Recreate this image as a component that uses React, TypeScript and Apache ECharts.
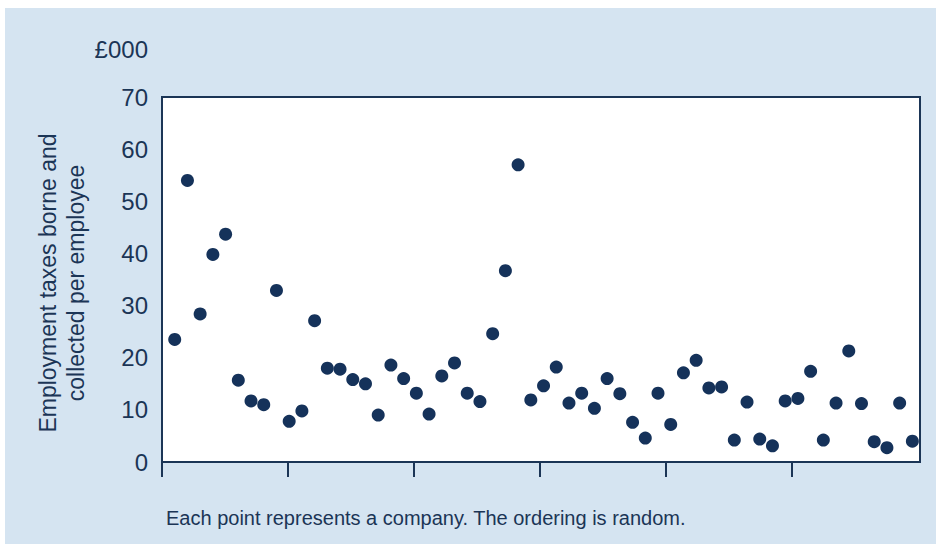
import React, { useEffect, useRef } from "react";
import * as echarts from "echarts";

const values: number[] = [
  23.5, 54.0, 28.4, 39.8, 43.7, 15.7, 11.7, 11.0, 32.9, 7.8,
  9.8, 27.1, 18.0, 17.8, 15.8, 15.0, 9.0, 18.6, 16.0, 13.2,
  9.2, 16.5, 19.0, 13.2, 11.6, 24.6, 36.7, 57.0, 11.9, 14.6,
  18.2, 11.3, 13.2, 10.3, 16.0, 13.1, 7.6, 4.6, 13.2, 7.2,
  17.1, 19.5, 14.2, 14.4, 4.2, 11.5, 4.4, 3.1, 11.7, 12.2,
  17.4, 4.2, 11.3, 21.3, 11.2, 3.9, 2.75, 11.3, 4.0,
];
const companyIndex: number[] = values.map((_, i) => i + 1);
const xTicks: number[] = [0, 9.9, 19.8, 29.7, 39.6, 49.5];
const yTickValues: number[] = [0, 10, 20, 30, 40, 50, 60, 70];

const unitLabel = "£000";
const yTitle = "Employment taxes borne and\ncollected per employee";
const caption = "Each point represents a company. The ordering is random.";

const NAVY = "#1b3556";
const FONT = "Liberation Sans, Arial, Helvetica, sans-serif";

export default function App() {
  const ref = useRef<HTMLDivElement>(null);
  useEffect(() => {
    if (!ref.current) return;
    const chart = echarts.init(ref.current, undefined, { renderer: "svg" });
    chart.setOption({
      animation: false,
      backgroundColor: "#ffffff",
      textStyle: { fontFamily: FONT },
      grid: {
        left: 162,
        top: 97,
        width: 758,
        height: 365,
        show: true,
        backgroundColor: "#ffffff",
        borderColor: NAVY,
        borderWidth: 2,
        z: 1,
      },
      xAxis: {
        type: "value",
        min: 0,
        max: 59.6,
        interval: 9.9,
        axisLine: { show: true, lineStyle: { color: NAVY, width: 2 } },
        axisTick: {
          show: true,
          inside: false,
          length: 15,
          customValues: xTicks,
          lineStyle: { color: NAVY, width: 2 },
        },
        axisLabel: { show: false },
        splitLine: { show: false },
      },
      yAxis: {
        type: "value",
        min: yTickValues[0],
        max: yTickValues[yTickValues.length - 1],
        interval: 10,
        axisLine: { show: true, lineStyle: { color: NAVY, width: 2 } },
        axisTick: { show: false },
        axisLabel: {
          color: NAVY,
          fontSize: 24,
          fontFamily: FONT,
          margin: 14,
        },
        splitLine: { show: true, lineStyle: { color: "#a9b4c0", width: 1.5 } },
      },
      series: [
        {
          type: "scatter",
          data: companyIndex.map((x, i) => [x, values[i]]),
          symbol: "circle",
          symbolSize: 13,
          itemStyle: { color: "#15325a", opacity: 1 },
          z: 5,
        },
      ],
      graphic: [
        {
          type: "rect",
          z: -10,
          shape: { x: 5, y: 8, width: 931, height: 536 },
          style: { fill: "#d5e4f1" },
          silent: true,
        },
        {
          type: "text",
          x: 148,
          y: 49,
          style: {
            text: unitLabel,
            fill: NAVY,
            fontSize: 24,
            fontFamily: FONT,
            textAlign: "right",
            textVerticalAlign: "middle",
          },
        },
        {
          type: "text",
          x: 62,
          y: 283,
          rotation: Math.PI / 2,
          style: {
            text: yTitle,
            fill: NAVY,
            fontSize: 23,
            lineHeight: 28,
            fontFamily: FONT,
            textAlign: "center",
            textVerticalAlign: "middle",
          },
        },
        {
          type: "text",
          x: 166,
          y: 518,
          style: {
            text: caption,
            fill: NAVY,
            fontSize: 20,
            fontFamily: FONT,
            textAlign: "left",
            textVerticalAlign: "middle",
          },
        },
      ],
    });
    return () => chart.dispose();
  }, []);
  return (
    <div style={{ position: "absolute", left: 0, top: 0, width: 936, height: 544, background: "#ffffff" }}>
      <div ref={ref} style={{ width: 936, height: 544 }} />
    </div>
  );
}
